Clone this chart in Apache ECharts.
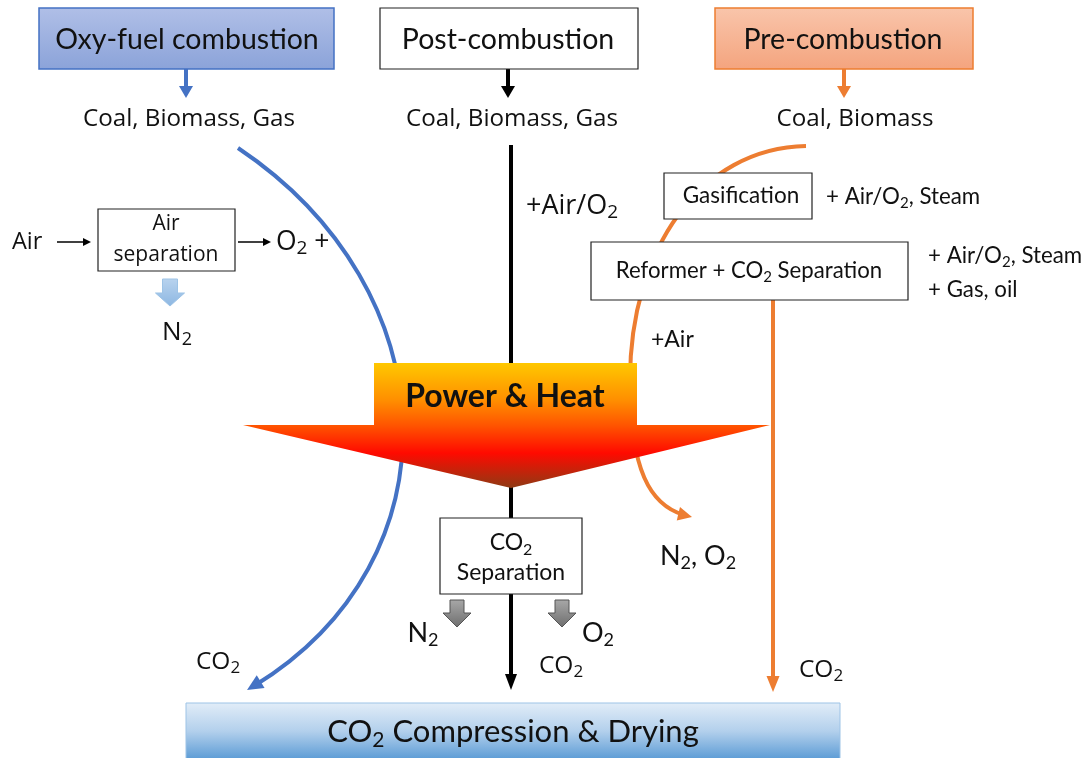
<!DOCTYPE html>
<html><head><meta charset="utf-8">
<script src="https://cdn.jsdelivr.net/npm/echarts@6/dist/echarts.min.js"></script>
<style>html,body{margin:0;padding:0;background:#fff}#c{width:1086px;height:758px}</style>
</head><body><div id="c"></div>
<script>
// ---- diagram content (text only) ----
const routeTitles = ['Oxy-fuel combustion', 'Post-combustion', 'Pre-combustion'];
const fuelLabels = ['Coal, Biomass, Gas', 'Coal, Biomass, Gas', 'Coal, Biomass'];
const processLabels = ['Air\nseparation', 'Gasification', 'Reformer + CO{b|2} Separation', 'CO{a|2}\nSeparation'];
const inputLabels = ['Air', 'O{a|2} +', '+Air/O{a|2}', '+ Air/O{b|2}, Steam', '+ Air/O{b|2}, Steam', '+ Gas, oil', '+Air'];
const outputLabels = ['N{b|2}', 'N{b|2}, O{b|2}', 'N{b|2}', 'O{b|2}', 'CO{a|2}', 'CO{a|2}', 'CO{a|2}'];
const centerLabel = 'Power & Heat';
const sinkLabel = 'CO{b|2} Compression & Drying';

const LATO = 'Lato, "Open Sans", sans-serif';
const OPEN = '"Open Sans", Lato, sans-serif';
const BLUE = '#4472c4', ORANGE = '#ed7d31', BLACK = '#000';

function rich(size, fam) {
  return {
    a: { fontSize: Math.round(size * 0.7), fontFamily: fam, fill: '#111', verticalAlign: 'bottom', lineHeight: Math.round(size * 0.87) },
    b: { fontSize: Math.round(size * 0.68), fontFamily: fam, fill: '#111', verticalAlign: 'bottom', lineHeight: Math.round(size * 0.62) }
  };
}
function T(x, y, text, size, opt) {
  opt = opt || {};
  const fam = opt.open ? OPEN : LATO;
  return {
    type: 'text', x: x, y: y, z: 10,
    style: {
      text: text, fontSize: size, fontFamily: fam, fontWeight: opt.weight || 'normal',
      fill: opt.fill || '#111', align: opt.align || 'center', verticalAlign: 'middle',
      lineHeight: opt.lh || Math.round(size * 1.2), rich: rich(size, fam)
    }
  };
}
function box(x, y, w, h, fill, stroke, lw) {
  return { type: 'rect', z: 5, shape: { x: x, y: y, width: w, height: h },
    style: { fill: fill, stroke: stroke, lineWidth: lw || 1.2 } };
}
function grad(stops) {
  return new echarts.graphic.LinearGradient(0, 0, 0, 1, stops.map((c) => ({ offset: c[0], color: c[1] })));
}
function head(tip, dir, len, w, color, z) {
  const L = Math.hypot(dir[0], dir[1]), dx = dir[0] / L, dy = dir[1] / L;
  const bx = tip[0] - dx * len, by = tip[1] - dy * len, nx = -dy, ny = dx;
  return { type: 'polygon', z: z || 3, shape: { points: [tip, [bx + nx * w / 2, by + ny * w / 2], [bx - nx * w / 2, by - ny * w / 2]] },
    style: { fill: color } };
}
function line(x1, y1, x2, y2, color, lw, z) {
  return { type: 'line', z: z || 2, shape: { x1: x1, y1: y1, x2: x2, y2: y2 }, style: { stroke: color, lineWidth: lw } };
}
function curve(p0, c1, c2, p1, color, lw) {
  return { type: 'bezierCurve', z: 2, shape: { x1: p0[0], y1: p0[1], cpx1: c1[0], cpy1: c1[1], cpx2: c2[0], cpy2: c2[1], x2: p1[0], y2: p1[1] },
    style: { stroke: color, lineWidth: lw, fill: null } };
}
function blockArrow(cx, top, sw, sh, hw, hh, fill, stroke) {
  return { type: 'polygon', z: 6, shape: { points: [
      [cx - sw / 2, top], [cx + sw / 2, top], [cx + sw / 2, top + sh], [cx + hw / 2, top + sh],
      [cx, top + sh + hh], [cx - hw / 2, top + sh], [cx - sw / 2, top + sh]] },
    style: { fill: fill, stroke: stroke, lineWidth: 1 } };
}

const els = [];
// top route boxes
els.push(box(39, 8, 295, 61, grad([[0, '#b0bfe7'], [1, '#8ba3d9']]), BLUE, 1.5));
els.push(box(380, 8, 258, 61, '#fff', '#222', 1.2));
els.push(box(715, 8, 258, 61, grad([[0, '#f9c5ab'], [1, '#f4a47e']]), ORANGE, 1.5));
els.push(T(187, 40, routeTitles[0], 28.5));
els.push(T(508, 40, routeTitles[1], 28.5));
els.push(T(843, 40, routeTitles[2], 28.5));
// short arrows under title boxes
els.push(line(186, 69, 186, 88, BLUE, 4));
els.push(head([186, 98], [0, 1], 12, 14, BLUE));
els.push(line(508, 69, 508, 88, BLACK, 4));
els.push(head([508, 98], [0, 1], 12, 14, BLACK));
els.push(line(844, 69, 844, 88, ORANGE, 4));
els.push(head([844, 98], [0, 1], 12, 14, ORANGE));
// fuel labels
els.push(T(189, 119, fuelLabels[0], 24.2, { open: true }));
els.push(T(512, 119, fuelLabels[1], 24.2, { open: true }));
els.push(T(855, 119, fuelLabels[2], 24.2, { open: true }));

// oxy-fuel blue curve
const bP0 = [238, 148], bC1 = [450, 290], bC2 = [460, 560], bP1 = [254, 686];
els.push(curve(bP0, bC1, bC2, bP1, BLUE, 4));
els.push(head([247, 690], [bP1[0] - bC2[0], bP1[1] - bC2[1]], 16, 15, BLUE));

// post-combustion black line
els.push(line(511, 145, 511, 676, BLACK, 4));
els.push(head([511, 690], [0, 1], 16, 12, BLACK));

// pre-combustion orange curve
els.push(curve([806, 146], [700, 148], [630, 250], [630, 380], ORANGE, 4));
els.push(curve([630, 380], [630, 470], [650, 505], [684, 515], ORANGE, 4));
els.push(head([692, 517], [38, 9], 14, 14, ORANGE));
// orange vertical line from reformer
els.push(line(773, 300, 773, 676, ORANGE, 4));
els.push(head([773, 692], [0, 1], 16, 13, ORANGE));

// air separation unit
els.push(box(98, 209, 137, 62, '#fff', '#222', 1.2));
els.push(T(166, 240, processLabels[0], 21, { lh: 31, open: true }));
els.push(T(12, 242, inputLabels[0], 23.5, { align: 'left', open: true }));
els.push(line(57, 242, 84, 242, BLACK, 1.5));
els.push(head([91, 242], [1, 0], 8, 8, BLACK));
els.push(line(238, 242, 263, 242, BLACK, 1.5));
els.push(head([271, 242], [1, 0], 8, 8, BLACK));
els.push(T(276, 242, inputLabels[1], 26.5, { align: 'left', open: true }));
els.push(blockArrow(170, 279, 15, 14, 29, 13, grad([[0, '#b9d3ee'], [1, '#8db7e2']]), '#9dc3e6'));
els.push(T(177, 333, outputLabels[0], 26, { open: true }));

// post-combustion input
els.push(T(526, 206, inputLabels[2], 27, { align: 'left', open: true }));

// gasification & reformer
els.push(box(664, 173, 148, 46, '#fff', '#222', 1.2));
els.push(T(741, 196, processLabels[1], 22.5));
els.push(T(826, 197, inputLabels[3], 22.3, { align: 'left' }));
els.push(box(591, 242, 317, 58, '#fff', '#222', 1.2));
els.push(T(749, 271, processLabels[2], 22.2));
els.push(T(928, 256, inputLabels[4], 22.3, { align: 'left' }));
els.push(T(928, 290, inputLabels[5], 22.3, { align: 'left' }));
els.push(T(651, 340, inputLabels[6], 23, { align: 'left' }));

// Power & Heat arrow
els.push({ type: 'polygon', z: 7, shape: { points: [[374, 363], [637, 363], [637, 425], [770, 425], [511, 488], [243, 425], [374, 425]] },
  style: { fill: grad([[0, '#ffc800'], [0.3, '#ff8e00'], [0.5, '#ff5400'], [0.72, '#ff0a00'], [1, '#8e3a14']]) } });
els.push(T(505, 397, centerLabel, 32, { weight: 'bold' }));

// CO2 separation
els.push(box(440, 518, 142, 76, '#fff', '#222', 1.2));
els.push(T(511, 558, processLabels[3], 23, { lh: 30 }));
els.push(blockArrow(457, 600, 14, 13, 28, 14, grad([[0, '#a8a8a8'], [1, '#6e6e6e']]), '#555'));
els.push(blockArrow(562, 600, 14, 13, 28, 14, grad([[0, '#a8a8a8'], [1, '#6e6e6e']]), '#555'));
els.push(T(423, 633, outputLabels[2], 27));
els.push(T(598, 633, outputLabels[3], 27));
els.push(T(698, 556, outputLabels[1], 27));

// CO2 labels
els.push(T(218, 662, outputLabels[4], 24.5, { open: true }));
els.push(T(561, 666, outputLabels[5], 24.5, { open: true }));
els.push(T(821, 670, outputLabels[6], 24.5, { open: true }));

// bottom sink box
els.push(box(186, 703, 654, 56, grad([[0, '#e2edf8'], [0.5, '#b3d0ec'], [1, '#5b9bd5']]), '#9dc3e6', 1));
els.push(T(513, 732, sinkLabel, 31));

const chart = echarts.init(document.getElementById('c'), null, { renderer: 'canvas' });
chart.setOption({ backgroundColor: '#fff', animation: false, graphic: { elements: els } });
</script></body></html>
